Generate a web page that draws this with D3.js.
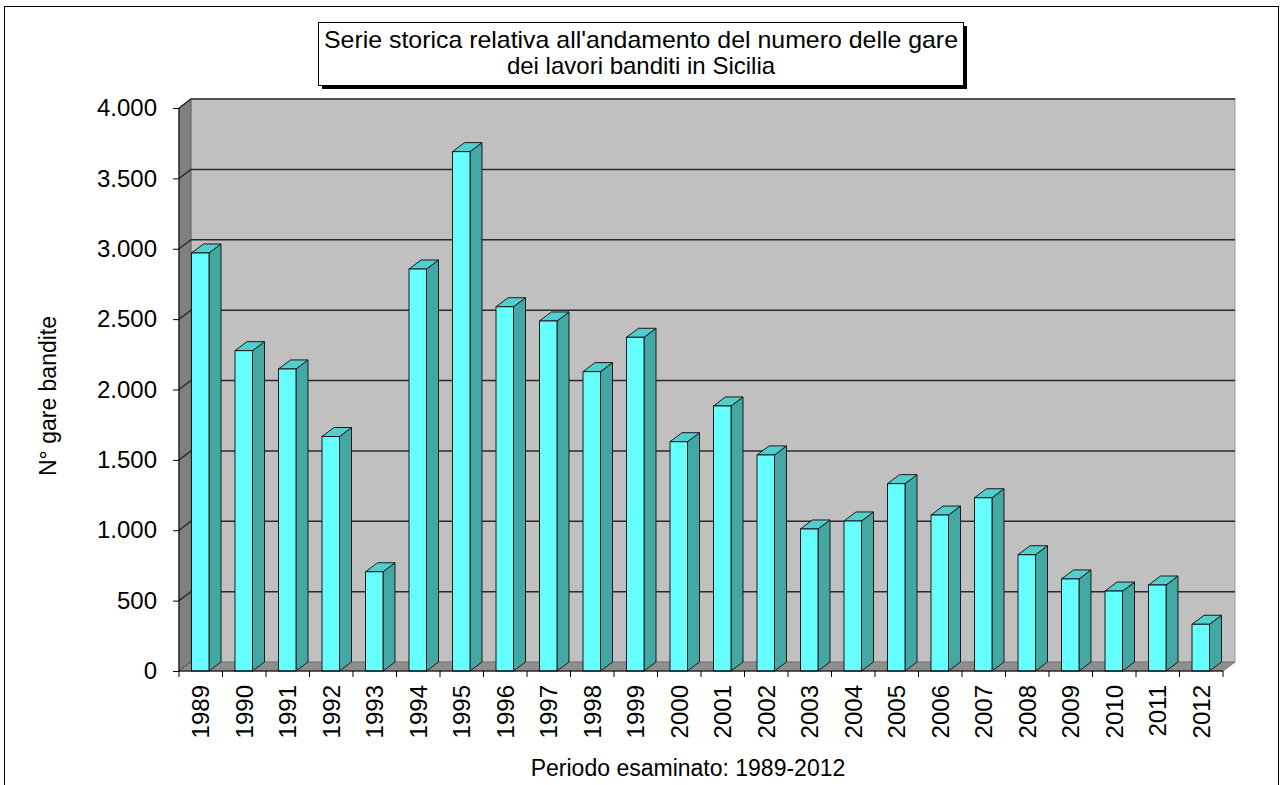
<!DOCTYPE html>
<html><head><meta charset="utf-8">
<script src="https://cdn.jsdelivr.net/npm/d3@7"></script>
<style>body{margin:0;background:#fff}svg{display:block}text{font-family:"Liberation Sans",Arial,sans-serif;fill:#000}</style>
</head><body>
<script>
const years = ["1989","1990","1991","1992","1993","1994","1995","1996","1997","1998","1999","2000","2001","2002","2003","2004","2005","2006","2007","2008","2009","2010","2011","2012"];
const gare = [2970,2276,2146,1666,705,2856,3690,2588,2487,2127,2371,1629,1883,1535,1009,1066,1331,1108,1231,826,654,568,611,332];
const yTicks = [0,500,1000,1500,2000,2500,3000,3500,4000];
const titleLines = ["Serie storica relativa all'andamento del numero delle gare","dei lavori banditi in Sicilia"];
const yTitle = "N° gare bandite";
const xTitle = "Periodo esaminato: 1989-2012";

const W=1285,H=785;
const svg=d3.select("body").append("svg").attr("width",W).attr("height",H);
const fmt = v => v===0 ? "0" : d3.format(",")(v).replace(/,/g,".");

const x0=179,x1=1223,yB=671,yT=108,dx=12,dy=-9;
const x=d3.scaleBand().domain(years).range([x0,x1]).padding(0);
const y=d3.scaleLinear().domain([0,4000]).range([yB,yT]);

// outer border
svg.append("rect").attr("x",4.5).attr("y",6.5).attr("width",1274).attr("height",800).attr("fill","none").attr("stroke","#000").attr("stroke-width",1);

// back wall
svg.append("rect").attr("x",x0+dx).attr("y",yT+dy).attr("width",x1-x0).attr("height",yB-yT).attr("fill","#c0c0c0").attr("stroke","#9a9a9a");
// side wall
svg.append("polygon").attr("points",[[x0,yT],[x0+dx,yT+dy],[x0+dx,yB+dy],[x0,yB]].join(" ")).attr("fill","#808080").attr("stroke","#666");
// floor
svg.append("polygon").attr("points",[[x0,yB],[x0+dx,yB+dy],[x1+dx,yB+dy],[x1,yB]].join(" ")).attr("fill","#8e8e8e").attr("stroke","#777");

// gridlines
yTicks.filter(v=>v>0).forEach(v=>{
  const yy=y(v);
  svg.append("polyline").attr("points",[[x0,yy],[x0+dx,yy+dy],[x1+dx,yy+dy]].join(" ")).attr("fill","none").attr("stroke","#2a2a2a").attr("stroke-width",1.5);
});
svg.append("line").attr("x1",x0).attr("y1",yB).attr("x2",x0+dx).attr("y2",yB+dy).attr("stroke","#333").attr("stroke-dasharray","2,2");

// bars
const fw=17.5, off=12.5;
const g=svg.append("g");
years.forEach((yr,i)=>{
  const v=gare[i];
  const bx=x(yr)+off, bx2=bx+fw, top=y(v);
  g.append("polygon").attr("points",[[bx2,top],[bx2+dx,top+dy],[bx2+dx,yB+dy],[bx2,yB]].join(" ")).attr("fill","#43a7a3").attr("stroke","#1a1a1a").attr("stroke-width",1);
  g.append("polygon").attr("points",[[bx,top],[bx+dx,top+dy],[bx2+dx,top+dy],[bx2,top]].join(" ")).attr("fill","#52cfcc").attr("stroke","#1a1a1a").attr("stroke-width",1);
  g.append("rect").attr("x",bx).attr("y",top).attr("width",fw).attr("height",yB-top).attr("fill","#66ffff").attr("stroke","#1a1a1a").attr("stroke-width",1);
});

// y axis
const ya=svg.append("g").attr("transform",`translate(${x0},0)`).call(d3.axisLeft(y).tickValues(yTicks).tickFormat(fmt).tickSize(6).tickPadding(16));
ya.selectAll("text").style("font-size","24px").style("font-family","Liberation Sans, Arial, sans-serif");
ya.selectAll("line,path").attr("stroke","#000");
ya.select("path").attr("d",`M-0,${yT}V${yB}`);

// x axis
const xa=svg.append("g").attr("transform",`translate(0,${yB})`).call(d3.axisBottom(x).tickSize(0).tickSizeOuter(0));
xa.select("path").attr("stroke","#000").attr("d",`M${x0},0H${x1}`);
xa.selectAll(".tick text").attr("transform","rotate(-90)").attr("x",-14).attr("y",0).attr("dy","0.35em").attr("text-anchor","end").style("font-size","24px").style("font-family","Liberation Sans, Arial, sans-serif");
xa.selectAll(".bline").data(d3.range(years.length+1)).enter().append("line")
  .attr("x1",i=>x0+i*x.step()).attr("x2",i=>x0+i*x.step()).attr("y1",0).attr("y2",6).attr("stroke","#000");

// axis titles
svg.append("text").attr("transform","translate(56,396) rotate(-90)").attr("text-anchor","middle").style("font-size","23px").text(yTitle);
svg.append("text").attr("x",688).attr("y",776).attr("text-anchor","middle").style("font-size","23px").text(xTitle);

// title box
svg.append("rect").attr("x",322).attr("y",26).attr("width",645).attr("height",63).attr("fill","#000");
svg.append("rect").attr("x",318.5).attr("y",22.5).attr("width",645).attr("height",63).attr("fill","#fff").attr("stroke","#000").attr("stroke-width",1);
svg.append("text").attr("x",641).attr("y",48).attr("text-anchor","middle").style("font-size","24px").attr("textLength",634).attr("lengthAdjust","spacingAndGlyphs").text(titleLines[0]);
svg.append("text").attr("x",641).attr("y",74).attr("text-anchor","middle").style("font-size","24px").text(titleLines[1]);
</script>
</body></html>
